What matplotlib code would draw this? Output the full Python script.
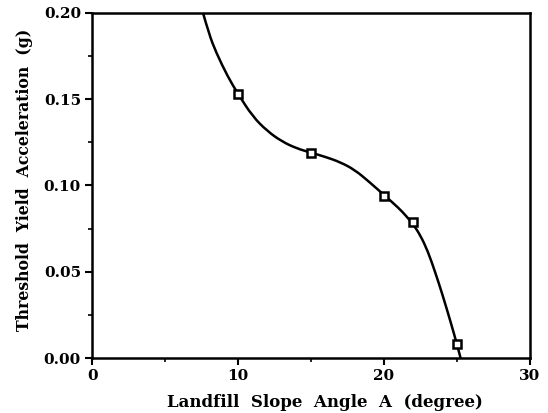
import matplotlib
matplotlib.use("Agg")
import matplotlib.pyplot as plt
from matplotlib.path import Path
from matplotlib.patches import PathPatch
from matplotlib.ticker import MultipleLocator, FormatStrFormatter

# measured points (slope angle in degrees, yield acceleration in g)
angle = [10, 15, 20, 22, 25]
accel = [0.153, 0.119, 0.094, 0.079, 0.008]

# trend curve drawn through the measurements
curve_angle = [7.6, 8.0, 8.5, 9.3, 10.0, 11.0, 12.0, 13.0, 14.0, 15.0, 16.0, 17.0,
               18.0, 19.0, 20.0, 21.0, 21.5, 22.0, 22.5, 23.0, 23.5, 24.0, 24.6,
               25.0, 25.25]
curve_accel = [0.200, 0.188, 0.177, 0.163, 0.153, 0.140, 0.1315, 0.1255, 0.1215, 0.119,
               0.1165, 0.1135, 0.109, 0.102, 0.0945, 0.087, 0.0825, 0.0775, 0.071,
               0.062, 0.050, 0.037, 0.020, 0.008, 0.000]

plt.rcParams['font.family'] = ['DejaVu Serif']
plt.rcParams['font.weight'] = 'bold'

fig = plt.figure(figsize=(5.48, 4.13), dpi=100)
ax = fig.add_axes([0.168, 0.133, 0.799, 0.836])

# smooth the trend line with quadratic bezier segments between midpoints
pts = list(zip(curve_angle, curve_accel))
verts = [pts[0]]
codes = [Path.MOVETO]
for i in range(1, len(pts) - 1):
    mid = ((pts[i][0] + pts[i + 1][0]) / 2, (pts[i][1] + pts[i + 1][1]) / 2)
    if i == len(pts) - 2:
        mid = pts[-1]
    verts += [pts[i], mid]
    codes += [Path.CURVE3, Path.CURVE3]
trend = PathPatch(Path(verts, codes), facecolor='none', edgecolor='black',
                  linewidth=1.8, capstyle='round', zorder=2)
ax.add_patch(trend)

ax.plot(angle, accel, linestyle='none', marker='s', markersize=6,
        markerfacecolor='white', markeredgecolor='black', markeredgewidth=1.8,
        zorder=3)

ax.set_xlim(0, 30)
ax.set_ylim(0, 0.20)
ax.xaxis.set_major_locator(MultipleLocator(10))
ax.xaxis.set_minor_locator(MultipleLocator(5))
ax.yaxis.set_major_locator(MultipleLocator(0.05))
ax.yaxis.set_minor_locator(MultipleLocator(0.025))
ax.yaxis.set_major_formatter(FormatStrFormatter('%.2f'))

ax.tick_params(which='major', direction='out', length=5, width=1.5, labelsize=11, pad=3)
ax.tick_params(which='minor', direction='out', length=3, width=1.2)
for sp in ax.spines.values():
    sp.set_linewidth(1.8)

ax.set_xlabel('Landfill  Slope  Angle  A  (degree)', fontsize=12, fontweight='bold')
ax.xaxis.set_label_coords(0.532, -0.105)
ax.set_ylabel('Threshold  Yield  Acceleration  (g)', fontsize=11.3, fontweight='bold')
ax.yaxis.set_label_coords(-0.136, 0.516)

fig.savefig('out.png', dpi=100)
